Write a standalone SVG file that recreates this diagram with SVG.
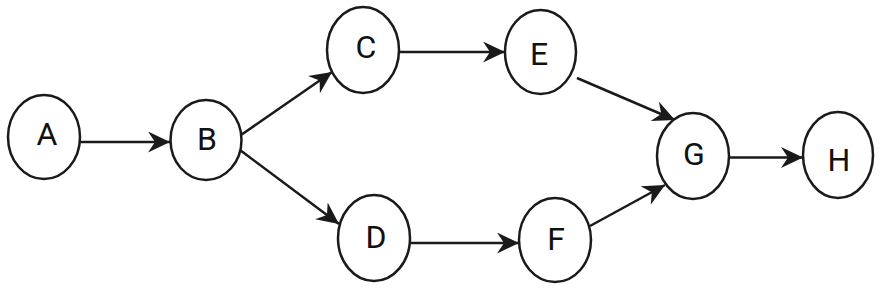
<svg xmlns="http://www.w3.org/2000/svg" width="887" height="293" viewBox="0 0 887 293">
<style>
.n ellipse{fill:#fff;stroke:#1a1a1a;stroke-width:2.5}
.n text{font-family:Roboto,"Liberation Sans",sans-serif;font-size:32px;fill:#111;text-anchor:middle}
.e line{stroke:#1a1a1a;stroke-width:2.5;marker-end:url(#ah)}
</style>
<defs>
<marker id="ah" markerUnits="userSpaceOnUse" markerWidth="24" markerHeight="22" refX="22" refY="10.5" orient="auto" viewBox="0 0 24 22">
<path d="M0,0 L22,10.5 L0,21 L7,10.5 Z" fill="#1a1a1a"/>
</marker>
</defs>
<rect width="887" height="293" fill="#fff"/>
<g id="connectors" class="e">
<line x1="80" y1="142" x2="170" y2="142"/>
<line x1="241" y1="135" x2="332" y2="72"/>
<line x1="240" y1="150" x2="339" y2="224"/>
<line x1="399" y1="52" x2="505" y2="52"/>
<line x1="577" y1="78" x2="675" y2="120"/>
<line x1="411" y1="243" x2="519" y2="243"/>
<line x1="590" y1="226" x2="665" y2="185"/>
<line x1="729" y1="157.5" x2="803" y2="157.5"/>
</g>
<g id="A" class="n"><ellipse cx="44" cy="137" rx="36" ry="42"/><text x="47" y="145">A</text></g>
<g id="B" class="n"><ellipse cx="206" cy="140" rx="35.5" ry="40"/><text x="207" y="150">B</text></g>
<g id="C" class="n"><ellipse cx="363" cy="50" rx="36" ry="43"/><text x="366" y="58">C</text></g>
<g id="D" class="n"><ellipse cx="374" cy="238" rx="36" ry="43"/><text x="376" y="248">D</text></g>
<g id="E" class="n"><ellipse cx="540.5" cy="52" rx="35.5" ry="42"/><text x="539" y="65">E</text></g>
<g id="F" class="n"><ellipse cx="555" cy="240" rx="36" ry="42"/><text x="556" y="250">F</text></g>
<g id="G" class="n"><ellipse cx="693" cy="156" rx="36" ry="43"/><text x="694" y="165">G</text></g>
<g id="H" class="n"><ellipse cx="838" cy="155" rx="35" ry="43"/><text x="839" y="171">H</text></g>
</svg>
